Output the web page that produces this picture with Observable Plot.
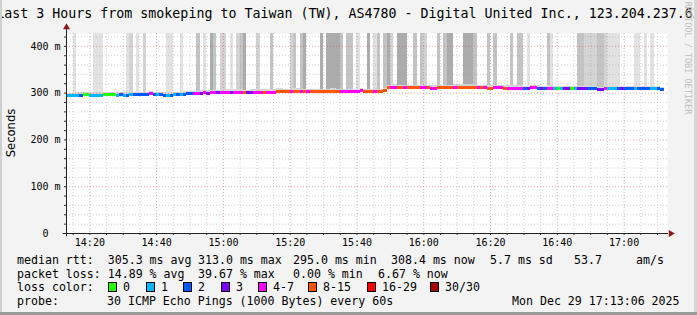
<!DOCTYPE html>
<html><head><meta charset="utf-8">
<script src="https://cdn.jsdelivr.net/npm/d3@7"></script>
<script src="https://cdn.jsdelivr.net/npm/@observablehq/plot@0.6"></script>
<style>
body{margin:0;background:#fff;}
#wrap{position:relative;width:697px;height:315px;background:#f3f3f3;overflow:hidden;font-family:"DejaVu Sans Mono",monospace;color:#000;}
#wrap svg{position:absolute;left:0;top:0;}
.t{position:absolute;white-space:pre;font-size:11.6px;line-height:14px;}
.box{position:absolute;width:9px;height:10px;box-sizing:border-box;border:1px solid #000;}
.title{position:absolute;left:-20px;width:737px;top:6px;text-align:center;white-space:pre;font-size:13.3px;line-height:16px;}
.ylab{position:absolute;font-family:"DejaVu Sans",sans-serif;font-size:11.6px;white-space:pre;transform:translate(-50%,-50%) rotate(-90deg);}
.wm{position:absolute;font-size:8.5px;color:#bdbdbd;white-space:pre;transform:translate(-50%,-50%) rotate(90deg);}
.edge{position:absolute;}
</style></head>
<body><div id="wrap"></div>
<script>
// ---------- data ----------
const startTime = new Date(Date.UTC(2025, 11, 29, 14, 13));
const endTime = new Date(Date.UTC(2025, 11, 29, 17, 13));

// median RTT per minute (ms)
const medianMs = [
  295,295,295,296,296,297,297,296,296,296,
  296,297,297,297,297,296,297,296,296,297,
  297,297,297,297,297,299,297,297,297,296,
  296,296,297,297,297,298,299,299,299,299,
  300,301,300,301,301,301,302,302,302,301,
  302,302,302,301,301,302,302,302,302,302,
  302,302,302,304,304,303,303,303,304,304,
  303,303,303,303,303,303,303,303,303,304,
  304,303,303,303,303,303,303,303,305,303,
  303,303,304,303,303,306,312,313,313,312,
  312,312,312,312,312,312,313,313,312,311,
  311,312,312,312,312,312,313,313,313,313,
  313,313,313,312,312,312,311,311,312,312,
  312,311,311,311,311,311,311,310,310,312,
  312,311,310,310,311,311,309,309,309,309,
  309,309,309,309,309,309,309,309,309,308,
  307,309,310,310,310,309,309,309,309,310,
  310,309,309,310,310,309,309,309,308
];

// loss class per minute (index into lossLabels)
const lossCode = [
  1,1,1,1,2,0,0,1,1,1,
  1,0,0,0,0,1,2,1,2,1,
  2,2,2,2,2,4,2,1,2,2,
  1,2,1,2,1,2,2,2,4,4,
  3,4,3,4,4,3,4,4,4,3,
  4,4,4,5,3,3,4,4,4,5,
  4,4,4,5,5,5,5,4,5,5,
  4,5,4,5,5,5,5,5,5,5,
  5,5,4,4,4,4,4,4,4,5,
  5,5,4,5,5,5,5,4,4,5,
  5,4,5,5,5,5,4,4,5,4,
  4,5,5,5,5,5,4,5,5,5,
  5,5,5,4,5,4,5,5,4,4,
  4,5,4,4,4,4,4,2,3,4,
  4,2,3,2,4,4,1,0,1,3,
  3,0,1,3,3,3,2,2,2,3,
  3,4,1,1,1,2,3,2,2,2,
  1,2,2,2,2,1,1,2,2
];

// smoke density above the plot top per minute (0 none .. 4 dark)
const smokeShade = [
  0,0,1,0,0,0,0,0,1,1,
  1,0,0,0,0,0,0,0,1,2,
  0,1,0,2,0,0,0,0,0,0,
  1,1,0,0,1,0,0,0,0,3,
  0,1,0,4,3,0,2,2,0,1,
  0,2,3,4,0,0,0,2,0,0,
  0,3,0,0,0,0,0,2,3,0,
  3,4,0,0,0,0,4,0,4,4,
  4,4,3,0,3,3,0,1,0,0,
  4,0,1,3,0,3,4,2,0,4,
  4,4,0,0,3,0,3,2,0,0,
  0,3,0,3,4,4,0,0,0,4,
  4,4,3,0,0,0,3,0,3,0,
  0,0,0,3,0,3,3,0,1,0,
  0,0,0,0,3,1,0,0,0,0,
  0,0,0,3,3,2,2,2,2,3,
  3,2,1,1,1,1,0,0,0,0,
  1,1,0,1,0,1,0,0,0
];

const lossLabels = ["0","1","2","3","4-7","8-15","16-29","30/30"];
const lossColors = ["#26ff00","#00b8ff","#0059ff","#7e00ff","#ff00ff","#ff5500","#ff0000","#a10000"];
const shadeColors = [null,"#e2e2e2","#d4d4d4","#c4c4c4","#acacac"];

const yTicks = [0, 0.1, 0.2, 0.3, 0.4];
const yTickLabels = ["0\u00a0\u00a0", "100 m", "200 m", "300 m", "400 m"];
const xTickTimes = ["14:20","14:40","15:00","15:20","15:40","16:00","16:20","16:40","17:00"];
const xTickLabels = ["14:20","14:40","15:00","15:20","15:40","16:00","16:20","16:40","17:00"];

const titleText = "Last 3 Hours from smokeping to Taiwan (TW), AS4780 - Digital United Inc., 123.204.237.62";
const rttStats = [["median rtt:  305.3 ms avg",17],["313.0 ms max",198],["295.0 ms min",293],["308.4 ms now",391],["5.7 ms sd",490],["53.7",574],["am/s",636]];
const lossStats = [["packet loss: 14.89 % avg",17],["39.67 % max",198],["0.00 % min",293],["6.67 % now",378]];
const lossBoxX = [108,146,183,221,258,308,367,430];
const probeText = [["probe:",17],["30 ICMP Echo Pings (1000 Bytes) every 60s",107],["Mon Dec 29 17:13:06 2025",512]];

// ---------- build ----------
const MIN = 60000;
const toDate = s => { const [h,m] = s.split(":").map(Number); return new Date(Date.UTC(2025,11,29,h,m)); };
const majorX = xTickTimes.map(toDate);
const minorX = d3.utcMinute.every(5).range(startTime, endTime).filter(d => d.getUTCMinutes() % 20 !== 0);
const allX5 = d3.utcMinute.every(5).range(startTime, endTime);
const yTop = 0.4275;
const yMinor = d3.range(1, 22).map(i => i * 0.02).filter(v => Math.round(v*100) % 10 !== 0);
const yMajor = [0.1, 0.2, 0.3, 0.4];
const yAll20 = d3.range(1, 22).map(i => i * 0.02);

const rows = medianMs.map((v, i) => ({
  t1: new Date(+startTime + i * MIN),
  t2: new Date(+startTime + (i + 1) * MIN),
  med: v / 1000,
  loss: lossCode[i],
  shade: smokeShade[i]
}));

const chart = Plot.plot({
  width: 697, height: 315,
  marginLeft: 66, marginRight: 30, marginTop: 33, marginBottom: 82,
  x: {type: "utc", domain: [startTime, endTime]},
  y: {domain: [0, yTop]},
  color: {type: "identity"},
  style: {background: "transparent", fontFamily: "DejaVu Sans Mono", fontSize: "10px", overflow: "visible", color: "#000"},
  marks: [
    Plot.frame({fill: "white", stroke: "none"}),
    Plot.rect(rows.filter(d => d.shade > 0), {x1: "t1", x2: "t2", y1: d => d.med + 0.004, y2: yTop, fill: d => shadeColors[d.shade], shapeRendering: "crispEdges"}),
    Plot.rect(rows, {x1: "t1", x2: "t2", y1: d => d.med - 0.004, y2: d => d.med + 0.005, fill: "#d6d6d6", shapeRendering: "crispEdges"}),
    Plot.ruleY(yMinor, {stroke: "#999", strokeOpacity: 0.45, strokeDasharray: "1,2"}),
    Plot.ruleX(minorX, {stroke: "#999", strokeOpacity: 0.45, strokeDasharray: "1,2"}),
    Plot.ruleY(yMajor, {stroke: "#d04040", strokeOpacity: 0.45, strokeDasharray: "1,2"}),
    Plot.ruleX(majorX, {stroke: "#d04040", strokeOpacity: 0.45, strokeDasharray: "1,2"}),
    Plot.ruleY(rows, {y: "med", x1: "t1", x2: "t2", stroke: d => lossColors[d.loss], strokeWidth: 3, shapeRendering: "crispEdges"}),
    // axes
    Plot.axisX({ticks: allX5, tickSize: 2, tickFormat: () => "", label: null, stroke: "#333"}),
    Plot.axisX({ticks: majorX, tickSize: 0, tickPadding: 5, label: null, fontSize: 10,
      tickFormat: d => xTickLabels[majorX.findIndex(t => +t === +d)]}),
    Plot.axisY({ticks: yAll20, tickSize: 2, tickFormat: () => "", label: null, stroke: "#333"}),
    Plot.axisY({ticks: yTicks, tickSize: 0, tickPadding: 6, label: null, fontSize: 10,
      tickFormat: d => yTickLabels[yTicks.indexOf(d)]}),
    Plot.ruleY([0], {x1: new Date(+startTime - MIN), x2: new Date(+endTime + 0.3 * MIN), stroke: "#222"}),
    Plot.ruleX([startTime], {y1: -0.007, y2: 0.441, stroke: "#222"}),
    Plot.dot([0], {x: () => startTime, y: () => 0.441, symbol: "triangle", r: 2.6, fill: "#8b1a1a", stroke: "none"}),
    Plot.dot([0], {x: () => new Date(+endTime + 1.0 * MIN), y: () => 0, symbol: "triangle", r: 2.6, fill: "#8b1a1a", stroke: "none", rotate: 90})
  ]
});

const wrap = document.getElementById("wrap");
wrap.appendChild(chart);

function div(cls, text, styles) {
  const e = document.createElement("div");
  e.className = cls;
  if (text != null) e.textContent = text;
  Object.assign(e.style, styles || {});
  wrap.appendChild(e);
  return e;
}
div("title", titleText);
div("ylab", "Seconds", {left: "11px", top: "133px"});
div("wm", "RRDTOOL / TOBI OETIKER", {left: "688px", top: "58px"});

const rowY = [260, 273.5, 287, 301];
rttStats.forEach(([s, x]) => div("t", s, {left: x + "px", top: (rowY[0] - 7) + "px"}));
lossStats.forEach(([s, x]) => div("t", s, {left: x + "px", top: (rowY[1] - 7) + "px"}));
div("t", "loss color:", {left: "17px", top: (rowY[2] - 7) + "px"});
lossLabels.forEach((s, i) => {
  div("box", null, {left: lossBoxX[i] + "px", top: (rowY[2] - 5) + "px", background: lossColors[i]});
  div("t", s, {left: (lossBoxX[i] + 15) + "px", top: (rowY[2] - 7) + "px"});
});
probeText.forEach(([s, x]) => div("t", s, {left: x + "px", top: (rowY[3] - 7) + "px"}));

// frame edges of the picture
div("edge", null, {left: "0px", top: "0px", width: "2px", height: "315px", background: "#cfcfcf"});
div("edge", null, {left: "694px", top: "0px", width: "3px", height: "315px", background: "#d6d6d6"});
div("edge", null, {left: "0px", top: "312px", width: "697px", height: "3px", background: "#9a9a9a"});
</script>
</body></html>
